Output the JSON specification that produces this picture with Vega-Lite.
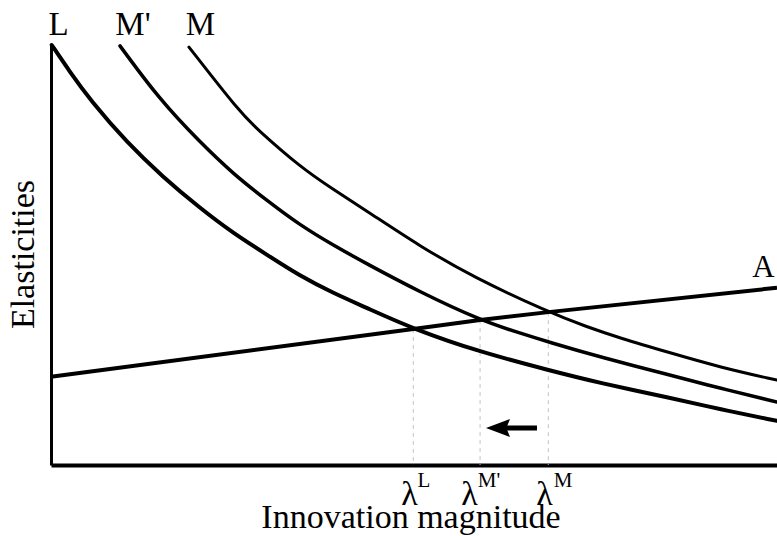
{
  "$schema": "https://vega.github.io/schema/vega-lite/v6.json",
  "width": 726,
  "height": 420,
  "padding": {"left": 51, "top": 45, "right": 0, "bottom": 71},
  "autosize": {"type": "none"},
  "background": "white",
  "config": {"view": {"stroke": null}, "font": "Liberation Serif"},
  "datasets": {
    "curves": [
      {"series": "L", "x": 0.01, "y": 10.0},
      {"series": "L", "x": 0.26, "y": 9.36},
      {"series": "L", "x": 0.54, "y": 8.69},
      {"series": "L", "x": 1.05, "y": 7.67},
      {"series": "L", "x": 1.54, "y": 6.86},
      {"series": "L", "x": 2.05, "y": 6.12},
      {"series": "L", "x": 2.51, "y": 5.52},
      {"series": "L", "x": 2.98, "y": 5.0},
      {"series": "L", "x": 3.43, "y": 4.5},
      {"series": "L", "x": 3.88, "y": 4.1},
      {"series": "L", "x": 4.35, "y": 3.74},
      {"series": "L", "x": 4.99, "y": 3.24},
      {"series": "L", "x": 5.91, "y": 2.69},
      {"series": "L", "x": 6.85, "y": 2.26},
      {"series": "L", "x": 7.56, "y": 1.95},
      {"series": "L", "x": 8.53, "y": 1.6},
      {"series": "L", "x": 9.21, "y": 1.33},
      {"series": "L", "x": 10.0, "y": 1.05},
      {"series": "M'", "x": 0.95, "y": 9.98},
      {"series": "M'", "x": 1.5, "y": 8.69},
      {"series": "M'", "x": 2.05, "y": 7.69},
      {"series": "M'", "x": 2.51, "y": 6.93},
      {"series": "M'", "x": 2.98, "y": 6.29},
      {"series": "M'", "x": 3.43, "y": 5.71},
      {"series": "M'", "x": 3.88, "y": 5.24},
      {"series": "M'", "x": 4.35, "y": 4.79},
      {"series": "M'", "x": 5.08, "y": 4.12},
      {"series": "M'", "x": 5.91, "y": 3.45},
      {"series": "M'", "x": 6.46, "y": 3.14},
      {"series": "M'", "x": 6.85, "y": 2.93},
      {"series": "M'", "x": 7.56, "y": 2.57},
      {"series": "M'", "x": 8.53, "y": 2.14},
      {"series": "M'", "x": 9.21, "y": 1.83},
      {"series": "M'", "x": 10.0, "y": 1.5},
      {"series": "M", "x": 1.9, "y": 9.95},
      {"series": "M", "x": 2.6, "y": 8.4},
      {"series": "M", "x": 2.85, "y": 7.98},
      {"series": "M", "x": 3.43, "y": 7.1},
      {"series": "M", "x": 3.88, "y": 6.57},
      {"series": "M", "x": 4.35, "y": 6.05},
      {"series": "M", "x": 5.08, "y": 5.21},
      {"series": "M", "x": 5.81, "y": 4.48},
      {"series": "M", "x": 6.85, "y": 3.64},
      {"series": "M", "x": 7.38, "y": 3.29},
      {"series": "M", "x": 7.84, "y": 3.02},
      {"series": "M", "x": 8.53, "y": 2.67},
      {"series": "M", "x": 9.21, "y": 2.33},
      {"series": "M", "x": 10.0, "y": 2.02},
      {"series": "A", "x": 0.0, "y": 2.1},
      {"series": "A", "x": 4.99, "y": 3.24},
      {"series": "A", "x": 5.91, "y": 3.45},
      {"series": "A", "x": 6.85, "y": 3.64},
      {"series": "A", "x": 10.0, "y": 4.22}
    ],
    "drops": [
      {"x": 4.99, "y": 3.24},
      {"x": 5.91, "y": 3.45},
      {"x": 6.85, "y": 3.64}
    ],
    "labels": [
      {"text": "L", "x": 0.103, "y": 10.24, "size": 33},
      {"text": "M'", "x": 1.129, "y": 10.24, "size": 33},
      {"text": "M", "x": 2.059, "y": 10.24, "size": 33},
      {"text": "A", "x": 9.814, "y": 4.48, "size": 31},
      {"text": "λ", "x": 4.938, "y": -0.95, "size": 34},
      {"text": "λ", "x": 5.764, "y": -0.95, "size": 34},
      {"text": "λ", "x": 6.798, "y": -0.95, "size": 34},
      {"text": "L", "x": 5.138, "y": -0.52, "size": 21},
      {"text": "M'", "x": 6.033, "y": -0.52, "size": 21},
      {"text": "M", "x": 7.052, "y": -0.52, "size": 21}
    ],
    "arrowShaft": [{"x": 6.25, "x2": 6.694, "y": 0.881}],
    "arrowHead": [{"x": 6.157, "y": 0.881}]
  },
  "encoding": {
    "x": {
      "field": "x", "type": "quantitative",
      "scale": {"domain": [0, 10], "nice": false, "zero": false},
      "axis": {
        "domain": true, "domainColor": "black", "domainWidth": 4,
        "ticks": false, "labels": false, "grid": false,
        "title": "Innovation magnitude",
        "titleFont": "Liberation Serif", "titleFontSize": 34, "titleFontWeight": "normal",
        "titleColor": "black", "titleBaseline": "alphabetic", "titleAlign": "center",
        "titleX": 359.5, "titleY": 62
      }
    },
    "y": {
      "field": "y", "type": "quantitative",
      "scale": {"domain": [0, 10], "nice": false, "zero": false},
      "axis": {
        "domain": true, "domainColor": "black", "domainWidth": 3,
        "ticks": false, "labels": false, "grid": false,
        "title": "Elasticities",
        "titleFont": "Liberation Serif", "titleFontSize": 34, "titleFontWeight": "normal",
        "titleColor": "black", "titleBaseline": "alphabetic", "titleAlign": "center",
        "titleAngle": 270, "titleX": -18, "titleY": 209
      }
    }
  },
  "layer": [
    {
      "data": {"name": "drops"},
      "mark": {"type": "rule", "color": "#c4c4c4", "strokeWidth": 1, "strokeDash": [4, 4]},
      "encoding": {"y2": {"datum": 0}}
    },
    {
      "data": {"name": "curves"},
      "transform": [{"filter": "datum.series !== 'A'"}],
      "mark": {"type": "line", "interpolate": "basis", "color": "black", "strokeCap": "round"},
      "encoding": {
        "detail": {"field": "series"},
        "strokeWidth": {
          "field": "series", "type": "nominal",
          "scale": {"domain": ["L", "M'", "M"], "range": [4, 3, 3]},
          "legend": null
        }
      }
    },
    {
      "data": {"name": "curves"},
      "transform": [{"filter": "datum.series === 'A'"}],
      "mark": {"type": "line", "interpolate": "linear", "color": "black", "strokeWidth": 4},
      "encoding": {}
    },
    {
      "data": {"name": "arrowShaft"},
      "mark": {"type": "rule", "color": "black", "strokeWidth": 5},
      "encoding": {"x2": {"field": "x2"}}
    },
    {
      "data": {"name": "arrowHead"},
      "mark": {"type": "point", "shape": "M-1,0L1,-0.75L0.7,0L1,0.75Z", "filled": true, "color": "black", "size": 576, "opacity": 1, "strokeWidth": 0},
      "encoding": {}
    },
    {
      "data": {"name": "labels"},
      "mark": {"type": "text", "font": "Liberation Serif", "color": "black", "align": "center", "baseline": "alphabetic"},
      "encoding": {
        "text": {"field": "text"},
        "size": {"field": "size", "type": "quantitative", "scale": null, "legend": null}
      }
    }
  ]
}
